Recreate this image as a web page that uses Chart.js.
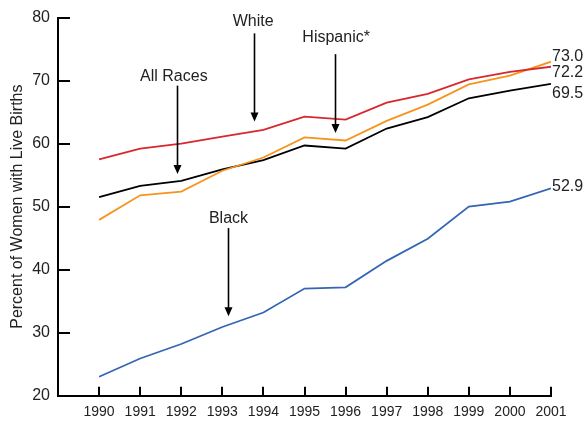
<!DOCTYPE html>
<html>
<head>
<meta charset="utf-8">
<script src="https://cdn.jsdelivr.net/npm/chart.js@4/dist/chart.umd.min.js"></script>
<style>
  html, body { margin: 0; padding: 0; background: #fff; }
  #wrap { width: 584px; height: 422px; position: relative; }
</style>
</head>
<body>
<div id="wrap"><canvas id="c" width="584" height="422"></canvas></div>
<script>
const years = [1990, 1991, 1992, 1993, 1994, 1995, 1996, 1997, 1998, 1999, 2000, 2001];
const white    = [57.5, 59.2, 60.0, 61.1, 62.2, 64.3, 63.8, 66.5, 67.9, 70.2, 71.4, 72.2];
const hispanic = [47.9, 51.8, 52.4, 55.7, 57.8, 61.0, 60.5, 63.6, 66.2, 69.4, 70.8, 73.0];
const allRaces = [51.5, 53.3, 54.1, 55.9, 57.4, 59.7, 59.2, 62.4, 64.2, 67.2, 68.4, 69.5];
const black    = [23.0, 25.9, 28.2, 30.9, 33.2, 37.0, 37.2, 41.4, 44.9, 50.0, 50.8, 52.9];
const yTicks = [20, 30, 40, 50, 60, 70, 80];
const yTitle = 'Percent of Women with Live Births';

// series annotations: name, text position (data units), arrow x, arrow start/end y (data units)
const annotations = [
  { text: 'White',     tx: 1993.75, ty: 79.3, ax: 1993.78, y0: 77.5, y1: 63.5 },
  { text: 'All Races', tx: 1991.82, ty: 70.65, ax: 1991.89, y0: 69.2, y1: 55.2 },
  { text: 'Hispanic*', tx: 1995.77, ty: 76.84, ax: 1995.74, y0: 74.2, y1: 61.7 },
  { text: 'Black',     tx: 1993.15, ty: 48.16, ax: 1993.13, y0: 46.6, y1: 32.6 }
];
// end labels (value text, pixel offset from final point)
const endLabels = [
  { series: hispanic, dy: -5.5 },
  { series: white, dy: 6 },
  { series: allRaces, dy: 10 },
  { series: black, dy: -2 }
];

const FONT = "'Liberation Sans', Arial, Helvetica, sans-serif";
const TXT = '#222';

function pts(vals) { return years.map((y, i) => ({ x: y, y: vals[i] })); }

const decor = {
  id: 'decor',
  afterDraw(chart) {
    const ctx = chart.ctx;
    const xs = chart.scales.x, ys = chart.scales.y;
    ctx.save();
    // inward tick marks
    ctx.strokeStyle = '#000';
    ctx.lineWidth = 2;
    ctx.beginPath();
    years.forEach(yr => {
      const px = Math.round(xs.getPixelForValue(yr));
      ctx.moveTo(px, ys.bottom);
      ctx.lineTo(px, ys.bottom - 9);
    });
    yTicks.forEach(v => {
      const py = Math.round(ys.getPixelForValue(v));
      ctx.moveTo(xs.left, py);
      ctx.lineTo(xs.left + 12, py);
    });
    ctx.stroke();

    // annotations with arrows
    ctx.font = '16px ' + FONT;
    ctx.fillStyle = TXT;
    ctx.textAlign = 'center';
    ctx.textBaseline = 'middle';
    annotations.forEach(a => {
      ctx.fillStyle = TXT;
      ctx.fillText(a.text, xs.getPixelForValue(a.tx), ys.getPixelForValue(a.ty));
      const ax = Math.round(xs.getPixelForValue(a.ax)) + 0.5;
      const y0 = ys.getPixelForValue(a.y0), y1 = ys.getPixelForValue(a.y1);
      ctx.strokeStyle = '#000';
      ctx.lineWidth = 1.6;
      ctx.beginPath();
      ctx.moveTo(ax, y0);
      ctx.lineTo(ax, y1 - 6);
      ctx.stroke();
      ctx.fillStyle = '#000';
      ctx.beginPath();
      ctx.moveTo(ax - 4, y1 - 9);
      ctx.lineTo(ax + 4, y1 - 9);
      ctx.lineTo(ax, y1);
      ctx.closePath();
      ctx.fill();
    });

    // end value labels
    ctx.font = '16px ' + FONT;
    ctx.fillStyle = TXT;
    ctx.textAlign = 'left';
    endLabels.forEach(l => {
      const last = l.series[l.series.length - 1];
      const px = xs.getPixelForValue(years[years.length - 1]) + 1;
      const py = ys.getPixelForValue(last) + l.dy;
      ctx.fillText(last.toFixed(1), px, py);
    });
    ctx.restore();
  }
};

new Chart(document.getElementById('c'), {
  type: 'line',
  data: {
    datasets: [
      { label: 'White', data: pts(white), borderColor: '#d9272e' },
      { label: 'Hispanic*', data: pts(hispanic), borderColor: '#f7941d' },
      { label: 'All Races', data: pts(allRaces), borderColor: '#000000' },
      { label: 'Black', data: pts(black), borderColor: '#3566b5' }
    ].map(d => Object.assign(d, { borderWidth: 1.8, pointRadius: 0, fill: false, tension: 0 }))
  },
  options: {
    responsive: false,
    animation: false,
    events: [],
    layout: { padding: { left: 0, right: 33, top: 11, bottom: 0 } },
    plugins: { legend: { display: false }, tooltip: { enabled: false } },
    scales: {
      x: {
        type: 'linear',
        min: 1989, max: 2001,
        afterFit(s) { s.height = 26.3; },
        afterBuildTicks(s) { s.ticks = years.map(v => ({ value: v })); },
        grid: { display: false, drawTicks: false },
        border: { display: true, color: '#000', width: 2 },
        ticks: {
          autoSkip: false, maxRotation: 0, padding: 8,
          color: TXT, font: { family: FONT, size: 14 },
          callback: v => String(v)
        }
      },
      y: {
        min: 20, max: 80,
        afterFit(s) { s.width = 58; },
        afterBuildTicks(s) { s.ticks = yTicks.map(v => ({ value: v })); },
        grid: { display: false, drawTicks: false },
        border: { display: true, color: '#000', width: 2 },
        ticks: {
          padding: 8, color: TXT, font: { family: FONT, size: 16 },
          callback: v => String(v)
        },
        title: {
          display: true, text: yTitle, color: TXT,
          font: { family: FONT, size: 16 },
          padding: { top: 8, bottom: 0 }
        }
      }
    }
  },
  plugins: [decor]
});
</script>
</body>
</html>
